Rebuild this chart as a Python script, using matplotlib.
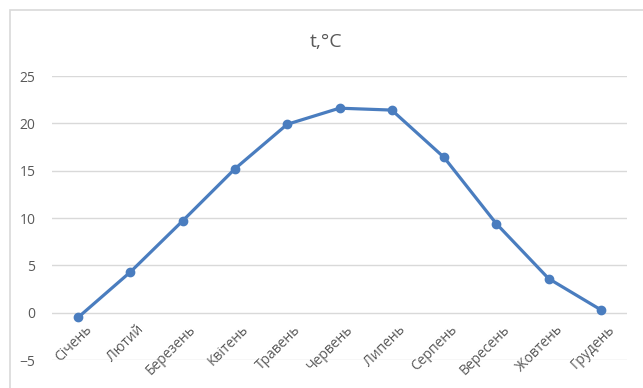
import matplotlib.pyplot as plt
import matplotlib.transforms as mtransforms
from matplotlib.patches import Rectangle

months = ["Січень", "Лютий", "Березень", "Квітень", "Травень", "Червень",
          "Липень", "Серпень", "Вересень", "Жовтень", "Грудень"]
temps = [-0.5, 4.3, 9.7, 15.2, 19.9, 21.6, 21.4, 16.4, 9.4, 3.6, 0.3]
yticks = [-5, 0, 5, 10, 15, 20, 25]

plt.rcParams['font.family'] = ['Open Sans', 'DejaVu Sans']
W, H = 643, 388
fig = plt.figure(figsize=(W / 100, H / 100), dpi=100)

# chart border (cut by the image edges on right and bottom)
fig.add_artist(Rectangle((9.5 / W, -0.1), 1.0, (H - 9.5) / H + 0.1,
                         transform=fig.transFigure, fill=False,
                         edgecolor='#d9d9d9', linewidth=1.2))

ax = fig.add_axes([52 / W, (H - 360) / H, 575 / W, 284 / H])
x = list(range(len(months)))
ax.plot(x, temps, color='#4a7dbf', linewidth=2.3, marker='o',
        markersize=6, solid_capstyle='round', zorder=3)

ax.set_xlim(-0.5, len(months) - 0.5)
ax.set_ylim(-5, 25)
ax.set_yticks(yticks)
ax.grid(axis='y', color='#d9d9d9', linewidth=1)
ax.set_axisbelow(True)
for s in ax.spines.values():
    s.set_visible(False)
ax.spines['bottom'].set_position(('data', 0))

ax.set_xticks(x)
ax.set_xticklabels(months, rotation=45, ha='right', rotation_mode='anchor')
ax.tick_params(axis='x', length=0, pad=7, labelsize=10, labelcolor='#595959')
ax.tick_params(axis='y', length=0, pad=12, labelsize=10, labelcolor='#595959')
shift = mtransforms.ScaledTranslation(6 / 100, 0, fig.dpi_scale_trans)
for lab in ax.get_xticklabels():
    lab.set_transform(lab.get_transform() + shift)

fig.text(326 / W, 1 - 42 / H, "t,°C", ha='center', va='center',
         fontsize=14, color='#595959')

fig.savefig("out.png", dpi=100)
